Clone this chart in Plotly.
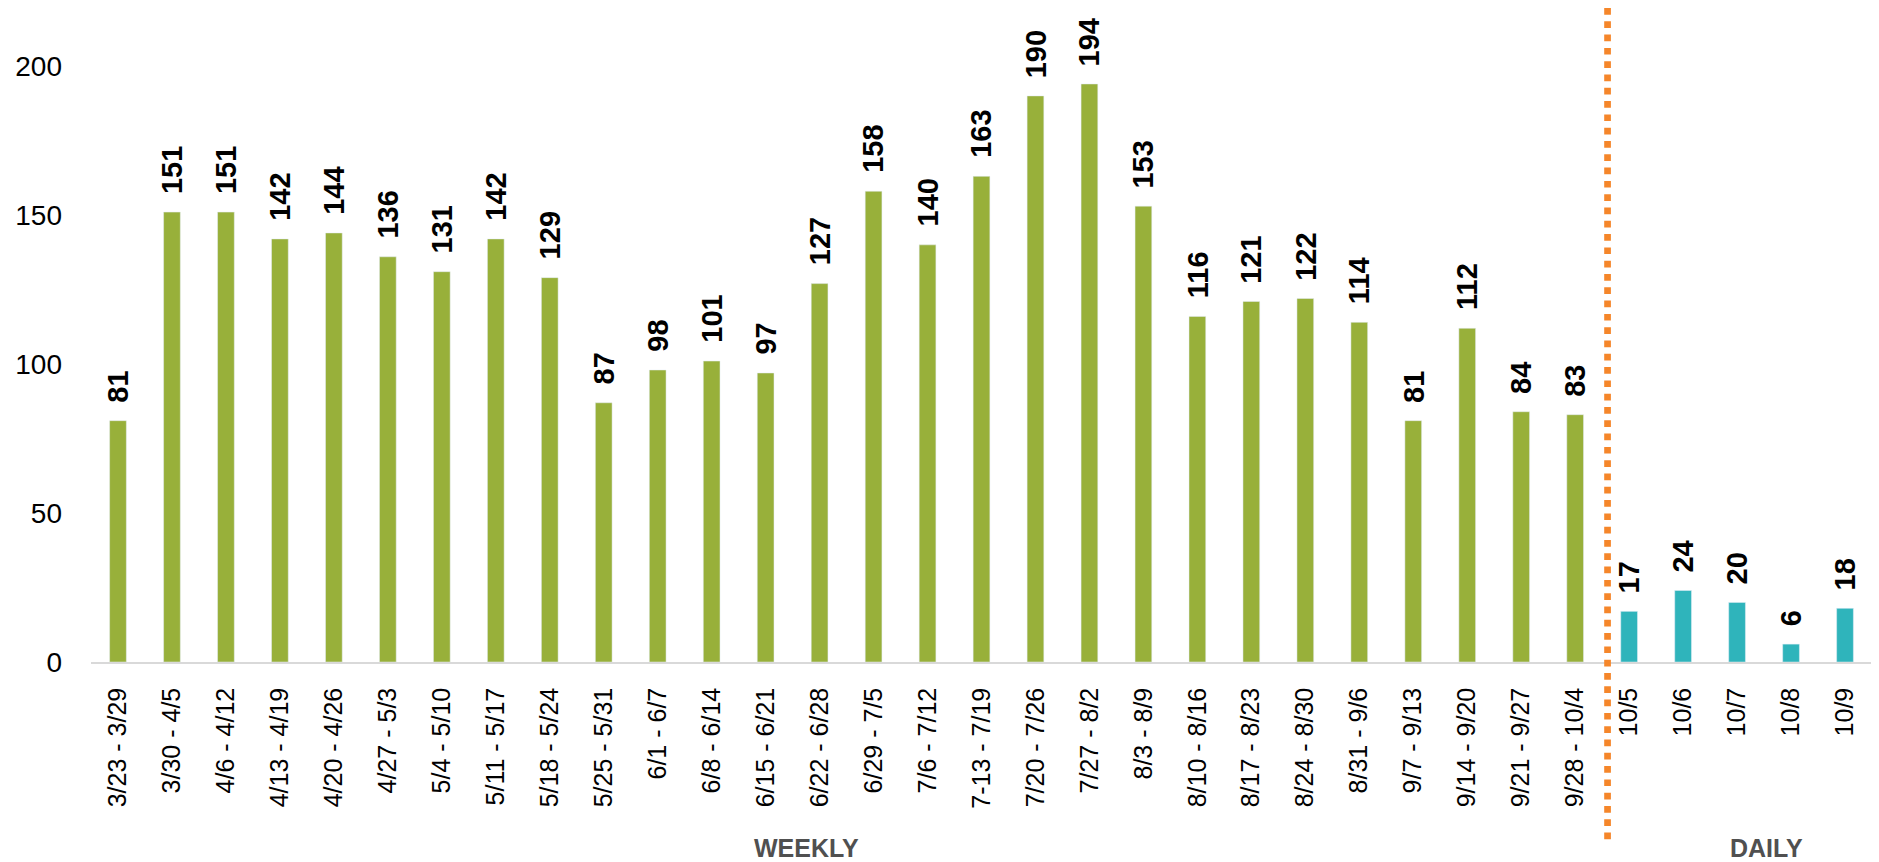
import plotly.graph_objects as go

weekly_labels = ["3/23 - 3/29", "3/30 - 4/5", "4/6 - 4/12", "4/13 - 4/19", "4/20 - 4/26",
                 "4/27 - 5/3", "5/4 - 5/10", "5/11 - 5/17", "5/18 - 5/24", "5/25 - 5/31",
                 "6/1 - 6/7", "6/8 - 6/14", "6/15 - 6/21", "6/22 - 6/28", "6/29 - 7/5",
                 "7/6 - 7/12", "7-13 - 7/19", "7/20 - 7/26", "7/27 - 8/2", "8/3 - 8/9",
                 "8/10 - 8/16", "8/17 - 8/23", "8/24 - 8/30", "8/31 - 9/6", "9/7 - 9/13",
                 "9/14 - 9/20", "9/21 - 9/27", "9/28 - 10/4"]
weekly_values = [81, 151, 151, 142, 144, 136, 131, 142, 129, 87, 98, 101, 97, 127, 158,
                 140, 163, 190, 194, 153, 116, 121, 122, 114, 81, 112, 84, 83]
daily_labels = ["10/5", "10/6", "10/7", "10/8", "10/9"]
daily_values = [17, 24, 20, 6, 18]

group_titles = ["WEEKLY", "DAILY"]

GREEN = "#98B03A"
TEAL = "#2FB4BB"
ORANGE = "#F5862A"
FONT = "Liberation Sans"

all_labels = weekly_labels + daily_labels

fig = go.Figure()
fig.add_trace(go.Bar(x=weekly_labels, y=weekly_values, marker_color=GREEN,
                     width=0.31, showlegend=False, hoverinfo="x+y"))
fig.add_trace(go.Bar(x=daily_labels, y=daily_values, marker_color=TEAL,
                     width=0.31, showlegend=False, hoverinfo="x+y"))

annotations = []
for lab, val in zip(all_labels, weekly_values + daily_values):
    annotations.append(dict(x=lab, y=val, xref="x", yref="y", text=str(val),
                            textangle=-90, showarrow=False, yanchor="bottom",
                            xanchor="center", yshift=16,
                            font=dict(family=FONT, size=29, color="#000000", weight="bold")))

annotations.append(dict(x=0.402, y=-0.284, xref="paper", yref="paper", text="<b>" + group_titles[0] + "</b>",
                        showarrow=False, xanchor="center", yanchor="middle",
                        font=dict(family=FONT, size=25, color="#505050")))
annotations.append(dict(x=0.941, y=-0.284, xref="paper", yref="paper", text="<b>" + group_titles[1] + "</b>",
                        showarrow=False, xanchor="center", yanchor="middle",
                        font=dict(family=FONT, size=25, color="#505050")))

split_pos = len(weekly_labels) - 0.4

fig.update_layout(
    width=1871, height=854,
    margin=dict(l=83, r=7, t=0, b=200),
    paper_bgcolor="white", plot_bgcolor="white",
    bargap=0.69,
    font=dict(family=FONT, color="#000000"),
    annotations=annotations,
    shapes=[dict(type="line", xref="x", yref="paper", x0=split_pos, x1=split_pos,
                 y0=1.0, y1=-0.28, line=dict(color=ORANGE, width=6.7, dash="6.7px,6.6px"))],
    xaxis=dict(type="category", categoryorder="array", categoryarray=all_labels,
               range=[-0.5, len(all_labels) - 0.5], tickangle=-90,
               tickfont=dict(family=FONT, size=25, color="#000000"),
               showline=True, linecolor="#D9D9D9", linewidth=1.5,
               showgrid=False, zeroline=False, ticks="", ticklabelstandoff=14),
    yaxis=dict(range=[0, 219.5], dtick=50, tick0=0, showgrid=False, zeroline=False,
               showline=False, ticks="", tickfont=dict(family=FONT, size=28, color="#000000"),
               ticklabelstandoff=28),
)

fig.write_html("out.html")
